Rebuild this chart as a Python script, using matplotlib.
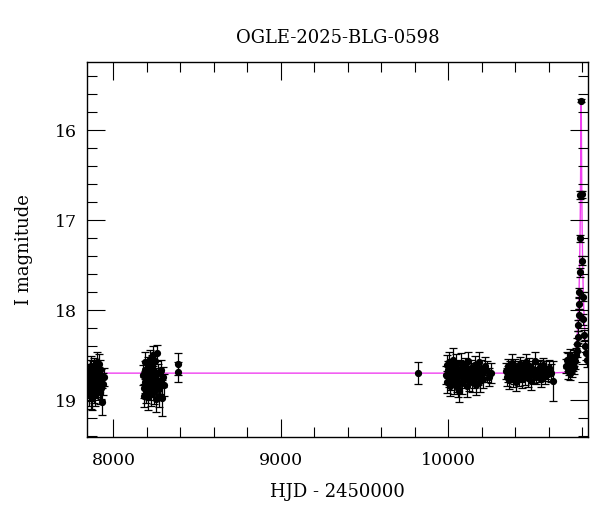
import numpy as np
import matplotlib
matplotlib.use('Agg')
import matplotlib.pyplot as plt
from matplotlib.ticker import MultipleLocator

# photometry, HJD - 2450000, I mag, error
s1_t = [7848, 7851, 7853, 7855, 7857, 7859, 7861, 7863, 7866, 7868, 7870, 7872, 7874, 7877, 7879, 7881, 7884, 7886,
        7889, 7891, 7894, 7896, 7899, 7902, 7905, 7908, 7911, 7914, 7917, 7920, 7924, 7928, 7932, 7937, 7942]
s1_m = [18.78, 18.70, 18.85, 18.92, 18.66, 18.80, 18.74, 18.95, 18.62, 18.88, 18.71, 18.83, 18.97, 18.68, 18.79, 18.90,
        18.75, 18.64, 18.86, 18.93, 18.72, 18.81, 18.69, 18.58, 18.77, 18.84, 18.60, 18.73, 18.91, 18.67, 18.87, 18.76,
        19.02, 18.82, 18.74]
s1_e = [0.12, 0.10, 0.13, 0.14, 0.11, 0.12, 0.10, 0.15, 0.11, 0.13, 0.10, 0.12, 0.14, 0.11, 0.12, 0.13, 0.10, 0.11,
        0.12, 0.14, 0.10, 0.12, 0.11, 0.12, 0.10, 0.13, 0.11, 0.10, 0.13, 0.12, 0.12, 0.11, 0.15, 0.12, 0.10]

s2_t = [8178, 8181, 8184, 8186, 8189, 8191, 8194, 8196, 8199, 8201, 8204, 8206, 8209, 8211, 8214, 8216, 8219, 8222,
        8224, 8227, 8230, 8233, 8236, 8239, 8242, 8245, 8248, 8251, 8254, 8257, 8260, 8263, 8266, 8270, 8274, 8278,
        8283, 8288, 8294, 8300]
s2_m = [18.72, 18.86, 18.95, 18.66, 18.80, 18.58, 18.90, 18.74, 18.83, 18.69, 18.97, 18.77, 18.62, 18.88, 18.71, 18.54,
        18.82, 18.93, 18.67, 18.79, 18.60, 18.85, 18.73, 18.50, 18.91, 18.68, 18.76, 18.56, 18.84, 18.99, 18.48, 18.78,
        18.70, 18.88, 18.95, 18.81, 18.66, 18.98, 18.74, 18.83]
s2_e = [0.11, 0.12, 0.13, 0.10, 0.12, 0.11, 0.13, 0.10, 0.12, 0.11, 0.14, 0.11, 0.10, 0.12, 0.11, 0.10, 0.12, 0.13,
        0.11, 0.12, 0.10, 0.12, 0.11, 0.10, 0.13, 0.11, 0.12, 0.10, 0.12, 0.14, 0.09, 0.11, 0.10, 0.12, 0.13, 0.12,
        0.11, 0.20, 0.11, 0.12]

s3_t = [8383, 8384, 9818]
s3_m = [18.60, 18.69, 18.70]
s3_e = [0.12, 0.11, 0.12]

s5_t = [9988, 9992, 9996, 10000, 10004, 10008, 10012, 10016, 10020, 10024, 10028, 10032, 10036, 10040, 10044, 10048,
        10052, 10056, 10060, 10065, 10070, 10075, 10080, 10085, 10090, 10095, 10100, 10105, 10110, 10115, 10120,
        10125, 10130, 10135, 10140, 10146, 10152, 10158, 10164, 10170, 10176, 10182, 10188, 10195, 10202, 10210,
        10220, 10232, 10245, 10258]
s5_m = [18.72, 18.61, 18.80, 18.66, 18.75, 18.58, 18.84, 18.69, 18.77, 18.63, 18.71, 18.55, 18.82, 18.67, 18.74, 18.60,
        18.79, 18.70, 18.86, 18.90, 18.65, 18.73, 18.59, 18.81, 18.68, 18.76, 18.62, 18.70, 18.84, 18.66, 18.57, 18.78,
        18.72, 18.64, 18.80, 18.69, 18.75, 18.61, 18.83, 18.67, 18.73, 18.58, 18.79, 18.65, 18.71, 18.76, 18.62, 18.68,
        18.74, 18.70]
s5_e = [0.10, 0.11, 0.12, 0.09, 0.10, 0.12, 0.11, 0.10, 0.12, 0.09, 0.10, 0.13, 0.11, 0.10, 0.09, 0.11, 0.12, 0.10,
        0.11, 0.12, 0.10, 0.09, 0.11, 0.12, 0.10, 0.11, 0.09, 0.10, 0.12, 0.10, 0.11, 0.12, 0.10, 0.09, 0.11, 0.10,
        0.12, 0.10, 0.11, 0.09, 0.10, 0.11, 0.12, 0.10, 0.09, 0.11, 0.10, 0.12, 0.10, 0.11]

s6_t = [10345, 10350, 10355, 10360, 10365, 10370, 10375, 10380, 10385, 10390, 10396, 10402, 10408, 10414, 10420,
        10426, 10432, 10438, 10444, 10450, 10456, 10462, 10468, 10474, 10480, 10486, 10492, 10498, 10504, 10510,
        10516, 10522, 10528, 10535, 10542, 10549, 10556, 10563, 10570, 10578, 10586, 10594, 10603, 10614, 10625]
s6_m = [18.68, 18.74, 18.62, 18.71, 18.78, 18.65, 18.70, 18.59, 18.76, 18.67, 18.72, 18.63, 18.80, 18.69, 18.66, 18.74,
        18.60, 18.71, 18.77, 18.64, 18.69, 18.73, 18.58, 18.67, 18.75, 18.62, 18.70, 18.79, 18.65, 18.68, 18.72, 18.57,
        18.74, 18.66, 18.70, 18.63, 18.76, 18.69, 18.61, 18.73, 18.67, 18.71, 18.64, 18.70, 18.79]
s6_e = [0.09, 0.10, 0.08, 0.09, 0.10, 0.08, 0.09, 0.10, 0.09, 0.08, 0.10, 0.09, 0.10, 0.08, 0.09, 0.10, 0.08, 0.09,
        0.10, 0.09, 0.08, 0.10, 0.09, 0.08, 0.10, 0.09, 0.08, 0.10, 0.09, 0.08, 0.09, 0.10, 0.08, 0.09, 0.10, 0.08,
        0.09, 0.10, 0.08, 0.09, 0.10, 0.08, 0.09, 0.10, 0.22]

s7_t = [10706, 10710, 10714, 10718, 10722, 10726, 10730, 10734, 10738, 10742, 10746, 10750, 10754, 10758,
        10764, 10768, 10772, 10775, 10778, 10781, 10783, 10785, 10787, 10789, 10791, 10795,
        10799, 10803, 10806, 10809, 10813, 10818, 10823, 10829]
s7_m = [18.62, 18.55, 18.68, 18.58, 18.64, 18.52, 18.70, 18.60, 18.56, 18.66, 18.59, 18.63, 18.53, 18.57,
        18.50, 18.45, 18.38, 18.30, 18.17, 18.05, 17.93, 17.80, 17.58, 17.20, 16.72, 15.67,
        16.71, 17.45, 17.85, 18.10, 18.28, 18.40, 18.48, 18.55]
s7_e = [0.08, 0.09, 0.08, 0.10, 0.08, 0.09, 0.08, 0.10, 0.09, 0.08, 0.09, 0.08, 0.09, 0.08,
        0.08, 0.07, 0.07, 0.07, 0.06, 0.06, 0.06, 0.05, 0.05, 0.04, 0.04, 0.02,
        0.04, 0.05, 0.05, 0.06, 0.06, 0.07, 0.07, 0.08]

# model light curve
model_t = [7842, 10600, 10715, 10745, 10760, 10770, 10777, 10782, 10786, 10789, 10790, 10791, 10792, 10793, 10794,
           10795, 10796, 10797, 10798, 10799, 10800, 10801, 10804, 10808, 10813, 10820, 10830, 10836]
model_m = [18.70, 18.70, 18.69, 18.62, 18.51, 18.34, 18.10, 17.83, 17.48, 17.09, 16.91, 16.70, 16.45, 16.15, 15.83,
           15.67, 15.83, 16.15, 16.45, 16.70, 16.91, 17.09, 17.48, 17.83, 18.10, 18.34, 18.51, 18.57]

plt.rcParams['font.family'] = 'serif'
plt.rcParams['font.serif'] = ['DejaVu Serif']
plt.rcParams['mathtext.fontset'] = 'dejavuserif'

fig = plt.figure(figsize=(6.0, 5.12), dpi=100)
ax = fig.add_axes([0.145, 0.1465, 0.835, 0.7325])

t = np.concatenate([s1_t, s2_t, s3_t, s5_t, s6_t, s7_t])
m = np.concatenate([s1_m, s2_m, s3_m, s5_m, s6_m, s7_m])
e = np.concatenate([s1_e, s2_e, s3_e, s5_e, s6_e, s7_e])

ax.plot(model_t, model_m, '-', color='#f040f0', lw=1.0, zorder=1)
ax.errorbar(t, m, yerr=e, fmt='o', color='black', ms=4.2, elinewidth=0.9,
            capsize=3, capthick=0.9, zorder=2)

ax.set_xlim(7842, 10836)
ax.set_ylim(19.41, 15.24)
ax.xaxis.set_major_locator(MultipleLocator(1000))
ax.xaxis.set_minor_locator(MultipleLocator(200))
ax.yaxis.set_major_locator(MultipleLocator(1))
ax.yaxis.set_minor_locator(MultipleLocator(0.2))
ax.tick_params(which='both', direction='in', top=True, right=True, width=0.8)
ax.tick_params(which='major', length=13, labelsize=12.5)
ax.tick_params(which='minor', length=7.5)
ax.tick_params(axis='x', which='major', pad=11)
ax.tick_params(axis='y', which='major', pad=7)
for s in ax.spines.values():
    s.set_linewidth(1.0)

ax.set_title('OGLE-2025-BLG-0598', fontsize=13, pad=14)
ax.set_xlabel('HJD - 2450000', fontsize=13, labelpad=10)
ax.set_ylabel('I magnitude', fontsize=13, labelpad=16)

fig.savefig('out.png', dpi=100)
